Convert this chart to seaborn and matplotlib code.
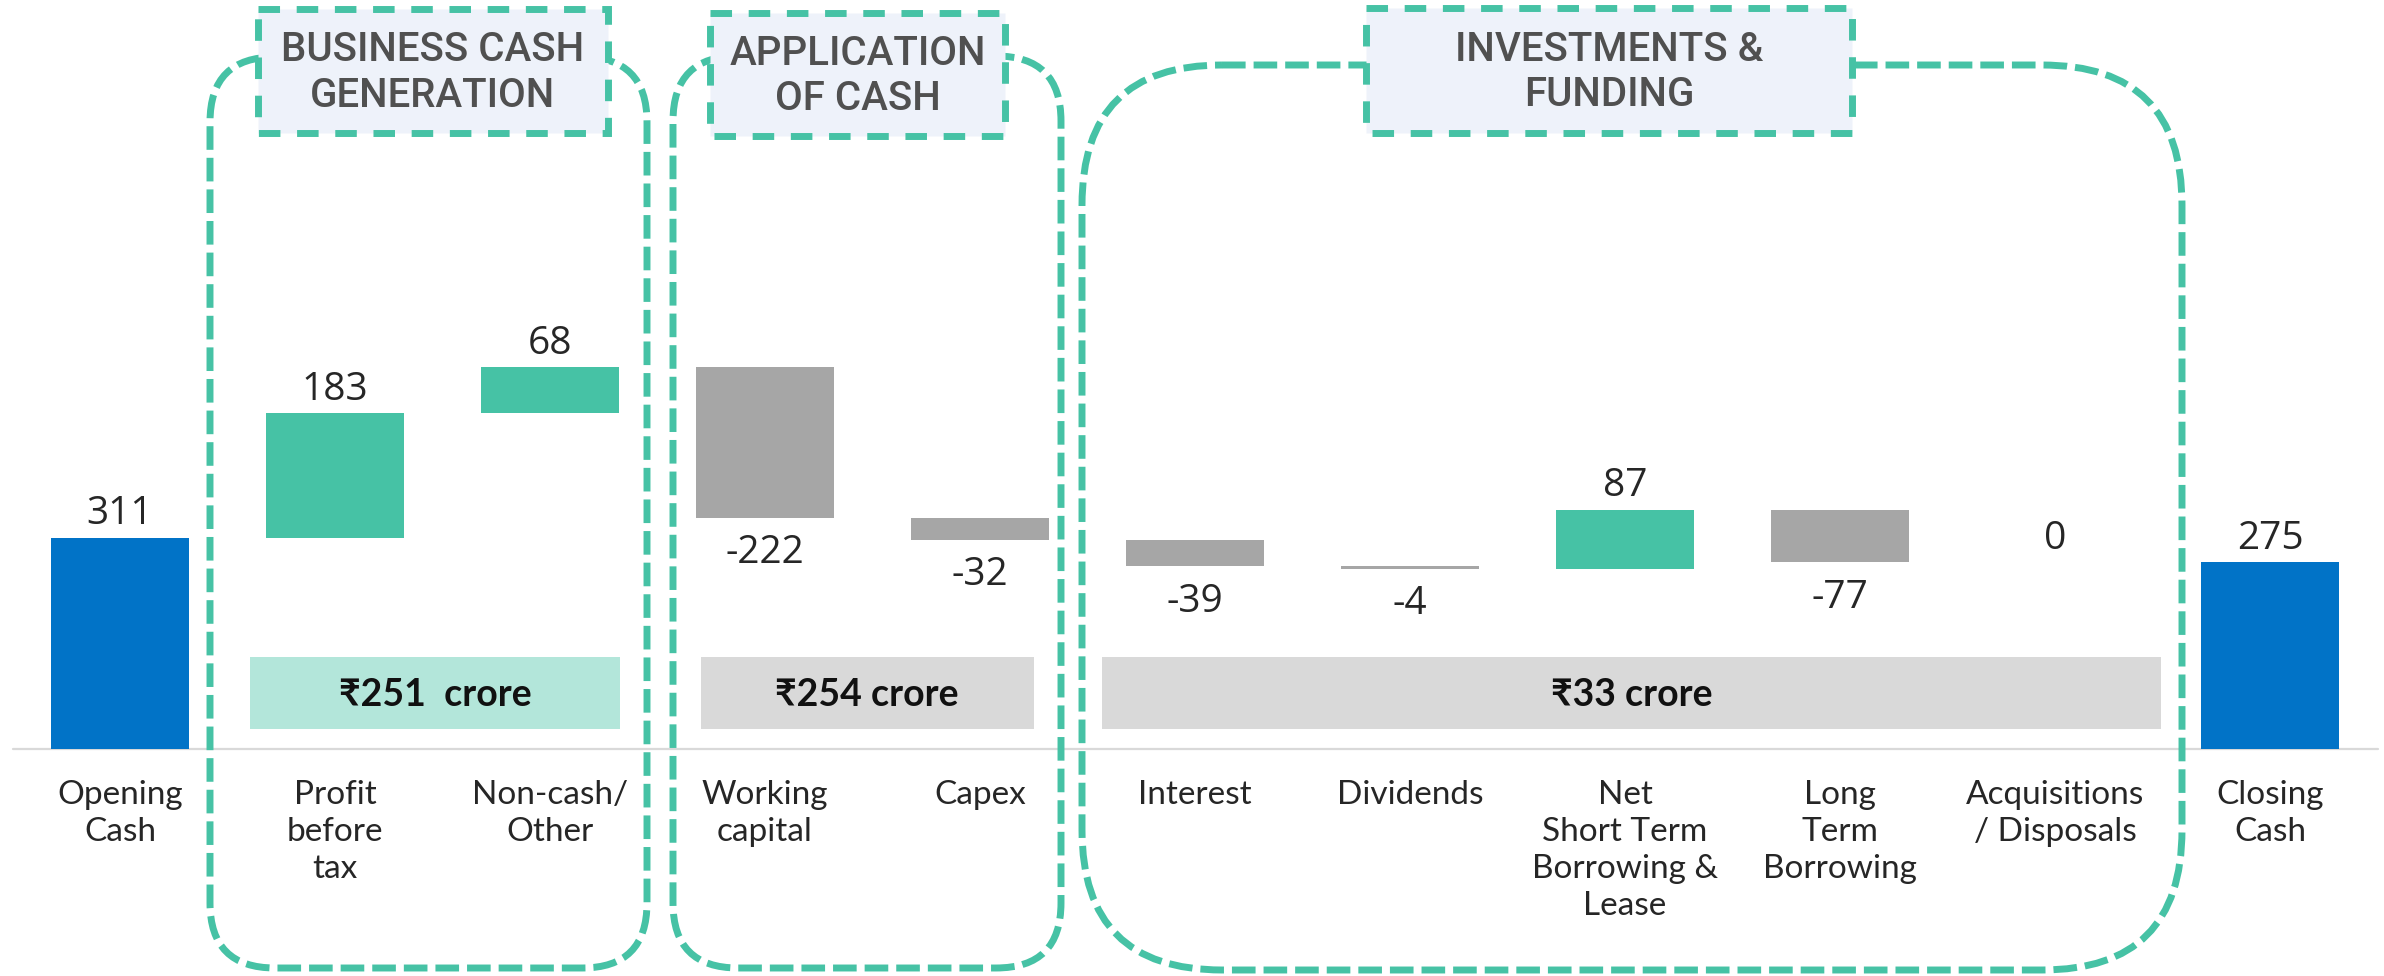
import numpy as np
import pandas as pd
import matplotlib.pyplot as plt
import seaborn as sns
from matplotlib.patches import FancyBboxPatch, Rectangle

# waterfall data (₹ crore)
categories = ['Opening\nCash', 'Profit\nbefore\ntax', 'Non-cash/\nOther', 'Working\ncapital', 'Capex',
              'Interest', 'Dividends', 'Net\nShort Term\nBorrowing &\nLease', 'Long\nTerm\nBorrowing',
              'Acquisitions\n/ Disposals', 'Closing\nCash']
values = [311, 183, 68, -222, -32, -39, -4, 87, -77, 0, 275]
is_total = [True, False, False, False, False, False, False, False, False, False, True]

group_titles = ['BUSINESS CASH\nGENERATION', 'APPLICATION\nOF CASH', 'INVESTMENTS &\nFUNDING']
group_totals = ['₹251  crore', '₹254 crore', '₹33 crore']

TEAL = '#46c2a5'
GREY = '#a6a6a6'
BLUE = '#0173c7'
palette = {'total': BLUE, 'up': TEAL, 'down': GREY}

sns.set_style('white')
plt.rcParams['font.family'] = ['Lato', 'DejaVu Sans']

# floating bar bases
bases, sizes, kinds, tops, bottoms = [], [], [], [], []
running = 0
for v, tot in zip(values, is_total):
    if tot:
        start, end = 0, v
        running = v
        kinds.append('total')
    else:
        start, end = running, running + v
        running = end
        kinds.append('up' if v > 0 else 'down')
    bases.append(min(start, end))
    sizes.append(abs(end - start))
    tops.append(max(start, end))
    bottoms.append(min(start, end))

df = pd.DataFrame({'category': categories, 'base': bases, 'size': sizes, 'kind': kinds})

W, H = 2384, 976
BASE_PX = 749      # baseline, px from top
PX_PER_UNIT = 0.68
fig = plt.figure(figsize=(W / 100, H / 100), dpi=100)
ax = fig.add_axes([12.5 / W, (H - BASE_PX) / H, 2365 / W, BASE_PX / H])

for kind, col in palette.items():
    sub = df[df['kind'] == kind]
    sns.barplot(data=sub, x='category', y='size', order=categories, color=col,
                bottom=sub['base'].to_numpy(), width=0.64, linewidth=0,
                errorbar=None, saturation=1, ax=ax, zorder=3)

ax.set_xlim(-0.5, len(categories) - 0.5)
ax.set_ylim(0, BASE_PX / PX_PER_UNIT)
ax.axhline(0, color='#d9d9d9', lw=1.6, zorder=2, clip_on=False)
sns.despine(ax=ax, left=True, bottom=True)
ax.set_yticks([])
ax.set_xlabel('')
ax.set_ylabel('')
ax.set_xticks(range(len(categories)))
ax.set_xticklabels(categories, fontsize=24, fontweight='normal', color='#262626',
                   linespacing=1.3, family=['Lato', 'DejaVu Sans'])
ax.tick_params(axis='x', length=0, pad=22)

# value labels
for i, v in enumerate(values):
    if is_total[i] or v >= 0:
        ax.annotate(str(v), (i, tops[i]), xytext=(0, 3), textcoords='offset points',
                    ha='center', va='bottom', fontsize=28, family=['Open Sans', 'DejaVu Sans'])
    else:
        ax.annotate(str(v), (i, bottoms[i]), xytext=(0, -12), textcoords='offset points',
                    ha='center', va='top', fontsize=28, family=['Open Sans', 'DejaVu Sans'])

# group total strips
strip_spans = [(0.605, 2.326), (2.70, 4.25), (4.567, 9.493)]
strip_colors = ['#b3e6da', '#d9d9d9', '#d9d9d9']
for (x0, x1), fc, txt in zip(strip_spans, strip_colors, group_totals):
    ax.add_patch(Rectangle((x0, 29), x1 - x0, 106, fc=fc, ec='none', zorder=1))
    ax.text((x0 + x1) / 2, 80, txt, ha='center', va='center', fontsize=27,
            fontweight='bold', family=['Lato', 'DejaVu Sans'], color='#111111', zorder=4)

# overlay in pixel coordinates for dashed group frames
deco = fig.add_axes([0, 0, 1, 1])
deco.set_xlim(0, W)
deco.set_ylim(H, 0)
deco.axis('off')
deco.patch.set_alpha(0)

frames = [(210, 57, 647, 968, 65), (673, 56, 1061, 968, 65), (1082, 65, 2182, 970, 140)]
for x0, y0, x1, y1, r in frames:
    deco.add_patch(FancyBboxPatch((x0, y0), x1 - x0, y1 - y0,
                                  boxstyle=f'round,pad=0,rounding_size={r}',
                                  fc='none', ec=TEAL, lw=5, ls=(0, (3.4, 1.15)), zorder=2))

headers = [(258, 9, 608, 133), (710, 13, 1005, 136), (1366, 8, 1852, 133)]
for (x0, y0, x1, y1), title in zip(headers, group_titles):
    deco.add_patch(Rectangle((x0, y0), x1 - x0, y1 - y0, fc='#eef2fa', ec=TEAL,
                             lw=5, ls=(0, (3.1, 2.4)), zorder=3))
    deco.text((x0 + x1) / 2, (y0 + y1) / 2 + 2, title, ha='center', va='center',
              fontsize=29, fontweight='medium', color='#505050', linespacing=1.25,
              family=['Roboto', 'DejaVu Sans'], zorder=4)

fig.savefig('out.png', dpi=100)
